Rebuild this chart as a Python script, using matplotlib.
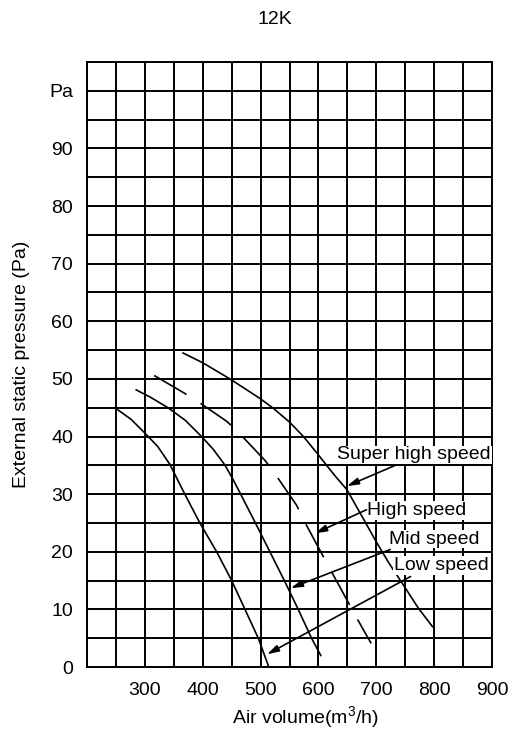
import numpy as np
import matplotlib
matplotlib.use('Agg')
import matplotlib.pyplot as plt

# fan curves (air volume m3/h, pressure Pa)
low_x = [251, 276, 300, 322, 343, 369, 395, 424, 450, 473, 496, 513]
low_y = [44.8, 43, 40.6, 38.3, 35.2, 30, 25, 20, 15, 10, 5, 0.3]
mid_x = [285, 310, 340, 370, 398, 418, 438, 451, 464, 491, 516, 541, 565, 588, 604]
mid_y = [48.1, 46.8, 45, 42.8, 40, 37.8, 35.1, 32.8, 30.3, 25, 20, 15, 10, 5, 2]
high_x = [316, 362, 387, 442, 462, 508, 525, 562, 575, 606, 620, 651, 665, 691]
high_y = [50.6, 47.9, 46.4, 42.6, 40.7, 35.8, 33.5, 28.1, 25.4, 19.6, 17, 11.3, 8.7, 4.1]
shigh_x = [366, 400, 447, 499, 522, 550, 574, 600, 614, 630, 649, 676, 700, 722, 745, 772, 797]
shigh_y = [54.5, 52.8, 50, 46.6, 44.9, 42.5, 40, 36.8, 35, 33, 30.8, 26, 21.7, 18, 14.5, 10.3, 7]

# labels: text position and arrow (tail -> head)
labels = ['Super high speed', 'High speed', 'Mid speed', 'Low speed']
label_x = [898, 684, 722, 730]
label_y = [36.8, 27.2, 22.2, 17.6]
label_ha = ['right', 'left', 'left', 'left']
arrow_tail = [(735, 35.1), (683, 27.3), (724, 20.4), (759, 15.7)]
arrow_head = [(649, 31.4), (594, 23.2), (552, 13.7), (511, 2.2)]

xticks = list(range(200, 901, 50))
xticklabels = [str(v) if v % 100 == 0 and v > 200 else '' for v in xticks]
yticks = list(range(0, 101, 10))
yticklabels = [str(v) for v in range(0, 91, 10)] + ['Pa']

plt.rcParams['font.family'] = ['Liberation Sans', 'DejaVu Sans']
plt.rcParams['mathtext.fontset'] = 'custom'
plt.rcParams['mathtext.rm'] = 'Liberation Sans'
plt.rcParams['lines.scale_dashes'] = False


def main():
    fig = plt.figure(figsize=(5.18, 7.4), dpi=100)
    ax = fig.add_axes([0.168, 0.0986, 0.782, 0.8176])

    ax.set_xlim(200, 900)
    ax.set_ylim(0, 105)
    ax.set_xticks(xticks)
    ax.set_xticklabels(xticklabels)
    ax.set_yticks(yticks)
    ax.set_yticklabels(yticklabels)
    ax.set_yticks(list(range(5, 106, 10)), minor=True)
    ax.tick_params(which='both', length=0, labelsize=14, colors='black')
    ax.tick_params(axis='x', pad=11)
    ax.tick_params(axis='y', pad=10)
    ax.grid(True, which='both', color='black', linewidth=1.4)
    ax.set_axisbelow(True)
    for s in ax.spines.values():
        s.set_linewidth(1.4)

    ax.plot(low_x, low_y, color='black', linewidth=1.2)
    ax.plot(mid_x, mid_y, color='black', linewidth=1.2)
    ax.plot(high_x, high_y, color='black', linewidth=1.2, dashes=(27, 12))
    ax.plot(shigh_x, shigh_y, color='black', linewidth=1.2)

    for i in range(len(labels)):
        ax.text(label_x[i], label_y[i], labels[i], fontsize=14, ha=label_ha[i], va='center',
                bbox=dict(facecolor='white', edgecolor='none', pad=0.5), zorder=5)
        ax.annotate('', xy=arrow_head[i], xytext=arrow_tail[i],
                    arrowprops=dict(arrowstyle='-|>,head_length=0.7,head_width=0.2',
                                    color='black', lw=1.2, shrinkA=0, shrinkB=0),
                    zorder=6)

    fig.text(275 / 518, 1 - 20 / 740, '12K', fontsize=14, ha='center', va='center')
    fig.text(305 / 518, 1 - 718 / 740, r'Air volume(m$^{3}$/h)', fontsize=14, ha='center', va='center')
    ax.set_ylabel('External static pressure (Pa)', fontsize=14, labelpad=14)

    fig.savefig('out.png', dpi=100)


if __name__ == "__main__":
    main()
